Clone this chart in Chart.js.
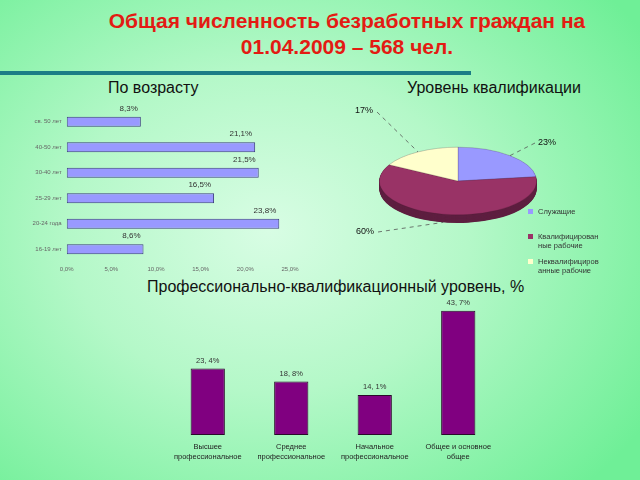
<!DOCTYPE html>
<html><head><meta charset="utf-8">
<script src="https://cdn.jsdelivr.net/npm/chart.js@4.4.1/dist/chart.umd.min.js"></script>
<style>
html,body{margin:0;padding:0;}
body{width:640px;height:480px;overflow:hidden;position:relative;font-family:"Liberation Sans",Arial,sans-serif;
background:radial-gradient(ellipse 70% 75% at 42% 48%, #d8fde4 0%, #b4f8c8 45%, #6fef97 100%);}
.abs{position:absolute;}
#title{left:60px;width:574px;top:8px;text-align:center;color:#e31b13;font-weight:bold;font-size:21px;line-height:26px;}
#rule{left:0;top:71px;width:471px;height:4px;background:#1b7d86;}
.sub{font-size:16px;color:#111;white-space:nowrap;}
#legend{left:528px;top:207px;font-size:7.5px;color:#333;line-height:9.5px;}
#legend .it{position:relative;padding-left:10px;margin-bottom:6px;}
#legend .sw{position:absolute;left:0;top:2px;width:5px;height:5px;}
</style></head><body>
<div id="title" class="abs">Общая численность безработных граждан на<br>01.04.2009 – 568 чел.</div>
<div id="rule" class="abs"></div>
<div class="abs sub" style="left:108px;top:79px;">По возрасту</div>
<div class="abs sub" style="left:407px;top:79px;">Уровень квалификации</div>
<div class="abs sub" style="left:147px;top:278px;">Профессионально-квалификационный уровень, %</div>
<canvas id="age" class="abs" style="left:0;top:100px;" width="310" height="180"></canvas>
<canvas id="pie" class="abs" style="left:330px;top:95px;" width="310" height="190"></canvas>
<div id="legend" class="abs"></div>
<canvas id="edu" class="abs" style="left:140px;top:295px;" width="380" height="185"></canvas>
<script>
// ---- data ----
const ageCategories = ['св. 50 лет', '40-50 лет', '30-40 лет', '25-29 лет', '20-24 года', '16-19 лет'];
const ageValues = [8.3, 21.1, 21.5, 16.5, 23.8, 8.6];
const ageTicks = [0, 5, 10, 15, 20, 25];

const qualCategories = ['Служащие', 'Квалифицированные рабочие', 'Неквалифицированные рабочие'];
const qualLegendLines = [['Служащие'], ['Квалифицирован', 'ные рабочие'], ['Неквалифициров', 'анные рабочие']];
const qualValues = [23, 60, 17];

const eduCategories = [['Высшее', 'профессиональное'], ['Среднее', 'профессиональное'], ['Начальное', 'профессиональное'], ['Общее и основное', 'общее']];
const eduValues = [23.4, 18.8, 14.1, 43.7];

const fmt1 = v => v.toFixed(1).replace('.', ',') + '%';
const FONT = '"Liberation Sans", Arial, sans-serif';
Chart.defaults.font.family = FONT;
Chart.defaults.animation = false;

// ---- age chart ----
new Chart(document.getElementById('age'), {
  type: 'bar',
  data: { labels: ageCategories, datasets: [{ data: ageValues, backgroundColor: '#9999ff', borderColor: '#3d3d80', borderWidth: 1, borderSkipped: false, categoryPercentage: 1, barPercentage: 0.4 }] },
  options: {
    indexAxis: 'y', responsive: false,
    layout: { padding: { top: 9, right: 20, bottom: 0, left: 0 } },
    plugins: { legend: { display: false }, tooltip: { enabled: false } },
    scales: {
      x: { min: 0, max: 25, grid: { display: false, drawTicks: false }, border: { display: false },
        afterBuildTicks: s => { s.ticks = ageTicks.map(v => ({ value: v })); },
        afterFit: s => { s.height = 18; },
        ticks: { font: { size: 6 }, color: '#666', padding: 4, callback: v => fmt1(v) } },
      y: { grid: { display: false, drawTicks: false }, border: { display: false },
        afterFit: s => { s.width = 66.7; },
        ticks: { font: { size: 6 }, color: '#666', padding: 5 } }
    }
  },
  plugins: [{
    id: 'ageLabels',
    afterDatasetsDraw(chart) {
      const ctx = chart.ctx; const meta = chart.getDatasetMeta(0);
      ctx.save(); ctx.font = '8px ' + FONT; ctx.fillStyle = '#333'; ctx.textAlign = 'right'; ctx.textBaseline = 'middle';
      meta.data.forEach((el, i) => { ctx.fillText(fmt1(ageValues[i]), el.x - 3, el.y - 13); });
      ctx.restore();
    }
  }]
});

// ---- pie (3D look) ----
const K = 0.43, DEPTH = 19;
const pieColors = ['#9999ff', '#993366', '#ffffcc'];
const pieSide = ['#6b6bb3', '#5e1f40', '#b3b38f'];
const pieLabelOffsets = [[89, -38], [-93, 51], [-94, -70]];
new Chart(document.getElementById('pie'), {
  type: 'pie',
  data: { labels: qualCategories, datasets: [{ data: qualValues, backgroundColor: pieColors, borderColor: 'rgba(60,20,40,0.35)', borderWidth: 0.8 }] },
  options: {
    responsive: false,
    layout: { padding: { top: 7, right: 103, bottom: 25, left: 49 } },
    plugins: { legend: { display: false }, tooltip: { enabled: false } }
  },
  plugins: [{
    id: 'tilt',
    beforeDatasetsDraw(chart) {
      const ctx = chart.ctx; const meta = chart.getDatasetMeta(0);
      const el0 = meta.data[0]; const cx = el0.x, cy = el0.y;
      ctx.save();
      ctx.translate(cx, cy); ctx.scale(1, K); ctx.translate(-cx, -cy);
      for (let d = DEPTH; d >= 1; d--) {
        meta.data.forEach((el, i) => {
          ctx.beginPath(); ctx.moveTo(el.x, el.y + d);
          ctx.arc(el.x, el.y + d, el.outerRadius, el.startAngle, el.endAngle);
          ctx.closePath(); ctx.fillStyle = pieSide[i]; ctx.fill();
        });
      }
    },
    afterDatasetsDraw(chart) {
      const ctx = chart.ctx; ctx.restore();
      const meta = chart.getDatasetMeta(0);
      ctx.save();
      meta.data.forEach((el, i) => {
        const mid = (el.startAngle + el.endAngle) / 2;
        let ex = el.x + el.outerRadius * Math.cos(mid);
        let ey = el.y + el.outerRadius * K * Math.sin(mid);
        if (Math.sin(mid) > 0.3) ey += DEPTH * K;
        const [ox, oy] = pieLabelOffsets[i];
        const lx = el.x + ox, ly = el.y + oy;
        const sx = lx + (ox > 0 ? -12 : 13);
        ctx.strokeStyle = '#555'; ctx.lineWidth = 0.8; ctx.setLineDash([4, 4]);
        ctx.beginPath(); ctx.moveTo(sx, ly + (oy < -50 ? 1 : 0)); ctx.lineTo(ex, ey); ctx.stroke();
        ctx.setLineDash([]);
        ctx.font = '9px ' + FONT; ctx.fillStyle = '#111'; ctx.textAlign = 'center'; ctx.textBaseline = 'middle';
        ctx.fillText(Math.round(qualValues[i]) + '%', lx, ly);
      });
      ctx.restore();
    }
  }]
});
const lg = document.getElementById('legend');
qualLegendLines.forEach((lines, i) => {
  const d = document.createElement('div'); d.className = 'it';
  d.innerHTML = '<span class="sw" style="background:' + pieColors[i] + '"></span>' + lines.join('<br>');
  if (i === 0) d.style.marginBottom = '15px';
  lg.appendChild(d);
});

// ---- education chart ----
new Chart(document.getElementById('edu'), {
  type: 'bar',
  data: { labels: eduCategories, datasets: [{ data: eduValues, backgroundColor: '#800080', borderColor: '#2a0a2a', borderWidth: 1, borderSkipped: false, categoryPercentage: 1, barPercentage: 0.41 }] },
  options: {
    responsive: false,
    layout: { padding: { top: 12, right: 20, bottom: 0, left: 26 } },
    plugins: { legend: { display: false }, tooltip: { enabled: false } },
    scales: {
      x: { grid: { display: false, drawTicks: false }, border: { display: false },
        afterFit: s => { s.height = 45; },
        ticks: { font: { size: 7.5, lineHeight: 1.45 }, color: '#222', padding: 6, maxRotation: 0, autoSkip: false } },
      y: { display: false, min: 0, max: 45 }
    }
  },
  plugins: [{
    id: 'eduLabels',
    afterDatasetsDraw(chart) {
      const ctx = chart.ctx; const meta = chart.getDatasetMeta(0);
      ctx.save(); ctx.font = '7.5px ' + FONT; ctx.fillStyle = '#333'; ctx.textAlign = 'center'; ctx.textBaseline = 'middle';
      meta.data.forEach((el, i) => { ctx.fillText(fmt1(eduValues[i]).replace(',', ', '), el.x, el.y - 8); });
      ctx.restore();
    }
  }]
});
</script>
</body></html>
